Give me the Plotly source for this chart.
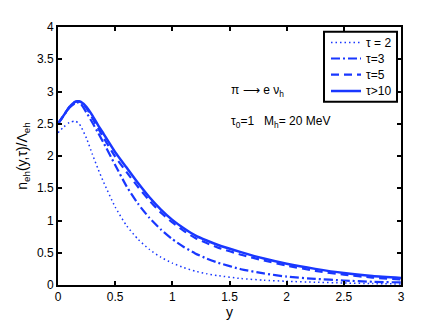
import plotly.graph_objects as go

# y grid and curve values
y_vals = [0, 0.05, 0.1, 0.15, 0.18, 0.2, 0.25, 0.3, 0.35, 0.4, 0.5, 0.6, 0.7, 0.8, 0.9,
          1.0, 1.1, 1.2, 1.3, 1.4, 1.6, 1.8, 2.0, 2.25, 2.5, 2.75, 3.0]

tau2 = [2.36, 2.45, 2.52, 2.54, 2.51, 2.46, 2.27, 2.03, 1.80, 1.59, 1.21, 0.92, 0.71, 0.55, 0.43,
        0.34, 0.27, 0.215, 0.175, 0.145, 0.10, 0.075, 0.058, 0.043, 0.031, 0.022, 0.016]
tau3 = [2.50, 2.63, 2.75, 2.82, 2.83, 2.81, 2.67, 2.52, 2.36, 2.20, 1.86, 1.53, 1.26, 1.04, 0.86,
        0.71, 0.59, 0.49, 0.41, 0.345, 0.245, 0.18, 0.13, 0.095, 0.07, 0.05, 0.04]
tau5 = [2.50, 2.63, 2.76, 2.84, 2.85, 2.83, 2.74, 2.59, 2.43, 2.28, 1.99, 1.75, 1.52, 1.31, 1.12,
        0.97, 0.84, 0.73, 0.65, 0.58, 0.47, 0.38, 0.30, 0.22, 0.16, 0.115, 0.085]
tau10 = [2.50, 2.63, 2.76, 2.84, 2.85, 2.84, 2.76, 2.63, 2.48, 2.34, 2.06, 1.82, 1.58, 1.36, 1.17,
         1.01, 0.88, 0.77, 0.69, 0.62, 0.51, 0.41, 0.33, 0.25, 0.185, 0.14, 0.11]

names = ['τ = 2', 'τ=3', 'τ=5', 'τ&gt;10']
dashes = ['1.5px,3px', '9px,3px,2px,3px', '8px,5px', 'solid']
widths = [1.5, 2.2, 2.2, 2.5]
blue = 'rgb(25,55,255)'

fig = go.Figure()
for name, vals, dash, w in zip(names, [tau2, tau3, tau5, tau10], dashes, widths):
    fig.add_trace(go.Scatter(
        x=y_vals, y=vals, mode='lines', name=name, showlegend=False,
        line=dict(color=blue, width=w, dash=dash, shape='spline', smoothing=0.6)
    ))

axis_style = dict(
    showgrid=False, zeroline=False, showline=True, linecolor='black', linewidth=2,
    mirror='allticks', ticks='inside', ticklen=4, tickwidth=1.5, tickcolor='black',
    tickfont=dict(family='Liberation Sans, Arial', size=12, color='black')
)

fig.update_layout(
    width=435, height=320,
    margin=dict(l=50, r=42, t=17, b=37),
    paper_bgcolor='white', plot_bgcolor='white',
    font=dict(family='Liberation Sans, Arial', size=12, color='black'),
    xaxis=dict(range=[0, 3], tickvals=[0, 0.5, 1, 1.5, 2, 2.5, 3],
               ticktext=['0', '0.5', '1', '1.5', '2', '2.5', '3'],
               title=dict(text='y', standoff=2), **axis_style),
    yaxis=dict(range=[0, 4], tickvals=[0, 0.5, 1, 1.5, 2, 2.5, 3, 3.5, 4],
               ticktext=['0', '0.5', '1', '1.5', '2', '2.5', '3', '3.5', '4'],
               title=dict(text='n<sub>eh</sub>(y,τ)/Λ<sub>eh</sub>', standoff=6), **axis_style),
    showlegend=False,
)


# pixel position in the reference -> paper coordinates of the plot area
def px(x):
    return (x - 58) / 343


def py(y):
    return (291 - y) / 266


# legend box drawn by hand (MATLAB style, tight rows)
fig.add_shape(type='rect', xref='paper', yref='paper',
              x0=px(324), x1=px(397), y0=py(102), y1=py(30),
              line=dict(color='black', width=2), fillcolor='white', layer='above')
row_y = [41, 57.5, 74, 91]
for name, dash, w, ry in zip(names, dashes, widths, row_y):
    fig.add_shape(type='line', xref='paper', yref='paper',
                  x0=px(331), x1=px(361), y0=py(ry), y1=py(ry),
                  line=dict(color=blue, width=w, dash=dash), layer='above')
    fig.add_annotation(x=px(364), y=py(ry), xref='paper', yref='paper', showarrow=False,
                       text=name, xanchor='left', yanchor='middle', font=dict(size=12))

fig.add_annotation(x=px(229), y=py(91), xref='paper', yref='paper', showarrow=False,
                   text='π <span style="font-family:DejaVu Sans">⟶</span> e ν<sub>h</sub>',
                   xanchor='left', yanchor='middle', font=dict(size=12))
fig.add_annotation(x=px(229), y=py(123), xref='paper', yref='paper', showarrow=False,
                   text='τ<sub>0</sub>=1&nbsp;&nbsp;&nbsp;M<sub>h</sub>= 20 MeV',
                   xanchor='left', yanchor='middle', font=dict(size=12))

fig.write_html("out.html")
